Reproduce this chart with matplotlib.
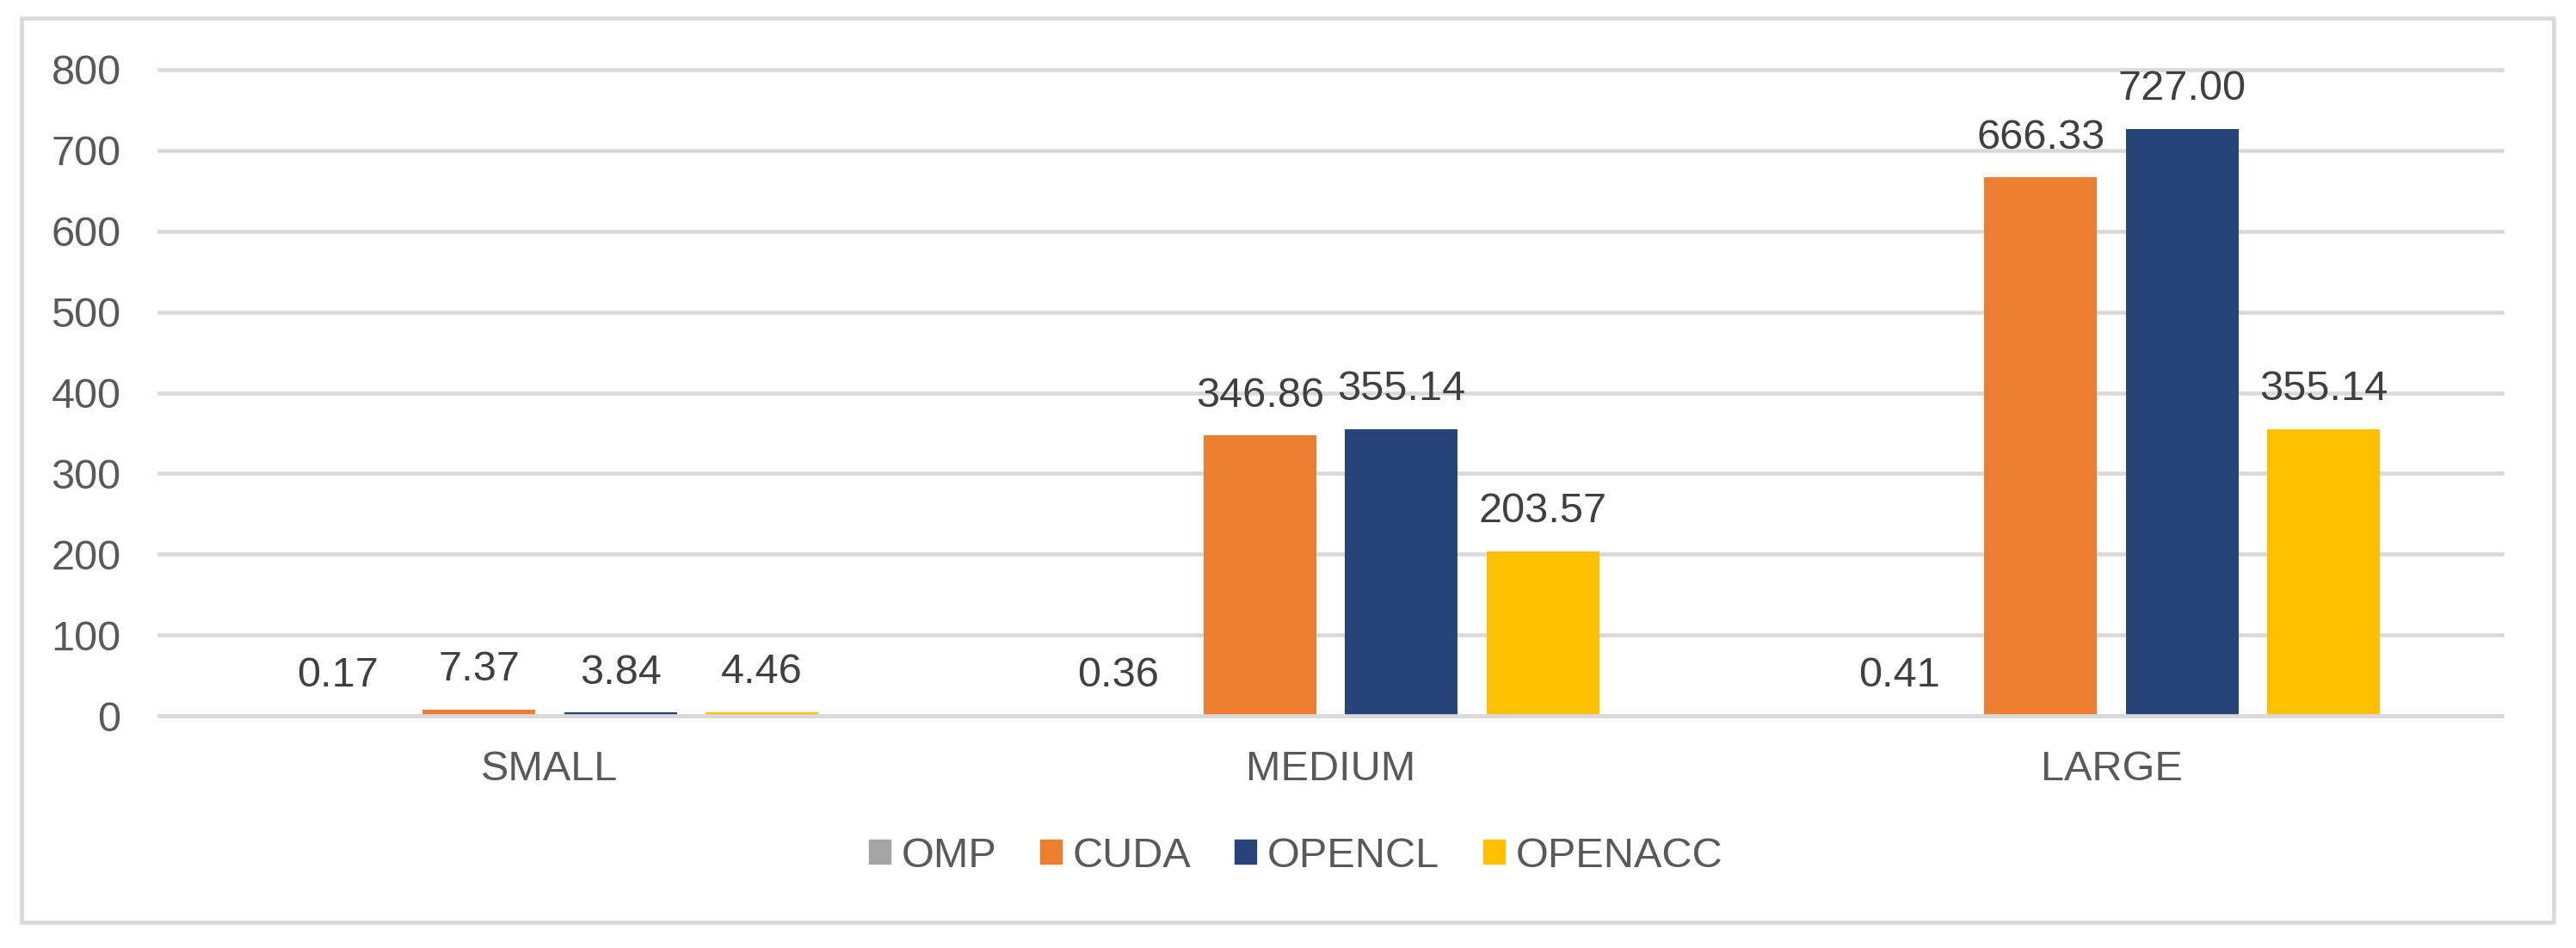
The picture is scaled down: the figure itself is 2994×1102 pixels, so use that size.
import matplotlib.pyplot as plt
import matplotlib.patches as mpatches
import numpy as np

# data
categories = ["SMALL", "MEDIUM", "LARGE"]
series = ["OMP", "CUDA", "OPENCL", "OPENACC"]
omp = [0.17, 0.36, 0.41]
cuda = [7.37, 346.86, 666.33]
opencl = [3.84, 355.14, 727.00]
openacc = [4.46, 203.57, 355.14]
yticks = [0, 100, 200, 300, 400, 500, 600, 700, 800]

colors = ["#A5A5A5", "#ED7D31", "#264478", "#FFC000"]
grid_col = "#D9D9D9"

plt.rcParams['font.family'] = ['Liberation Sans', 'DejaVu Sans']

fig = plt.figure(figsize=(29.94, 11.02), dpi=100)
ax = fig.add_axes([185 / 2994, 1 - 832 / 1102, (2908 - 185) / 2994, (832 - 81) / 1102])

x = np.arange(len(categories))
step = 0.1812
width = 0.1443
all_vals = [omp, cuda, opencl, openacc]

for j, (name, vals) in enumerate(zip(series, all_vals)):
    pos = x + (j - 1.5) * step
    bars = ax.bar(pos, vals, width, color=colors[j], label=name, zorder=2)
    for b, v in zip(bars, vals):
        ax.annotate(f"{v:.2f}", (b.get_x() + b.get_width() / 2, v),
                    xytext=(0, 17), textcoords="offset points",
                    ha="center", va="bottom", fontsize=35, color="#404040")

ax.set_xlim(-0.5, 2.5)
ax.set_ylim(0, 800)
ax.set_yticks(yticks)
ax.set_xticks(x)
ax.set_xticklabels(categories)

for s in ax.spines.values():
    s.set_visible(False)

ax.tick_params(axis="y", length=0, pad=32, labelsize=35, labelcolor="#595959")
ax.tick_params(axis="x", length=0, pad=29, labelsize=35, labelcolor="#595959")

ax.yaxis.grid(True, color=grid_col, linewidth=3.3, zorder=0)
ax.set_axisbelow(True)
for gl in ax.get_ygridlines():
    gl.set_clip_on(False)
# horizontal axis line on top of bar bottoms
ax.axhline(0, color=grid_col, linewidth=3.3, zorder=3, clip_on=False)

handles = [mpatches.Patch(color=c) for c in colors]
fig.legend(handles, series, loc="center", bbox_to_anchor=(0.503, 0.097),
           ncol=4, frameon=False, fontsize=35, labelcolor="#595959",
           handlelength=0.52, handleheight=0.5, handletextpad=0.26,
           columnspacing=1.04)

# outer chart border
border = mpatches.Rectangle((25 / 2994, 1 - 1072 / 1102), (2968 - 25) / 2994,
                            (1072 - 21) / 1102, transform=fig.transFigure,
                            fill=False, edgecolor=grid_col, linewidth=3.3)
fig.patches.append(border)

fig.savefig("out.png", dpi=100, facecolor="white")
